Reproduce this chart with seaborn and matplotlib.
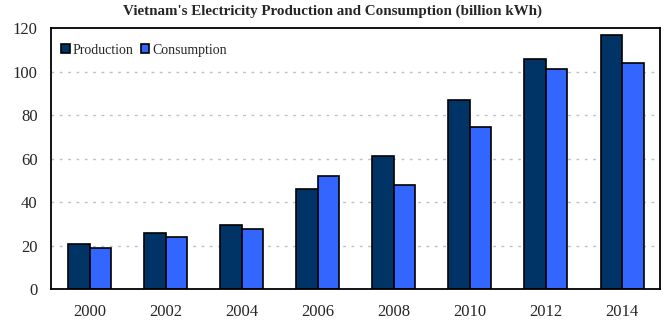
import matplotlib
matplotlib.use("Agg")
import matplotlib.pyplot as plt
import seaborn as sns
import pandas as pd

years = ["2000", "2002", "2004", "2006", "2008", "2010", "2012", "2014"]
production = [20.5, 25.7, 29.3, 45.8, 61.0, 87.0, 105.8, 116.9]
consumption = [19.0, 23.8, 27.4, 51.8, 47.7, 74.6, 101.2, 104.0]
series = ["Production", "Consumption"]
colors = ["#003366", "#3366FF"]
y_ticks = [0, 20, 40, 60, 80, 100, 120]

df = pd.DataFrame({
    "year": years * 2,
    "value": production + consumption,
    "series": [series[0]] * len(years) + [series[1]] * len(years),
})

sns.set_style("white")
plt.rcParams["font.family"] = ["Liberation Serif", "DejaVu Serif"]

fig = plt.figure(figsize=(6.65, 3.23), dpi=100)
ax = fig.add_axes([0.0774, 0.1053, 0.9152, 0.8071])

sns.barplot(data=df, x="year", y="value", hue="series", hue_order=series,
            palette=colors, width=0.566, edgecolor="black", linewidth=1.2,
            saturation=1, ax=ax, legend=True)

ax.set_ylim(0, 120)
ax.set_xlim(-0.5, 7.5)
ax.set_yticks(y_ticks)
ax.set_xlabel("")
ax.set_ylabel("")
for y in y_ticks[1:-1]:
    ax.axhline(y, color="#c0c0c0", lw=1.0, ls=(0, (2, 4)), zorder=0)
ax.tick_params(axis="both", length=0, labelsize=12)
ax.tick_params(axis="x", pad=11)
ax.tick_params(axis="y", pad=10)
for s in ax.spines.values():
    s.set_color("black")
    s.set_linewidth(1.3)

ax.legend(loc="center left", bbox_to_anchor=(0.0, 0.916), ncol=2, frameon=False,
          fontsize=10, handlelength=0.6, handleheight=0.6, handletextpad=0.25,
          columnspacing=0.5, borderaxespad=0.3)

fig.suptitle("Vietnam's Electricity Production and Consumption (billion kWh)",
             fontsize=10.8, fontweight="bold", y=0.985)

fig.savefig("out.png", dpi=100)
